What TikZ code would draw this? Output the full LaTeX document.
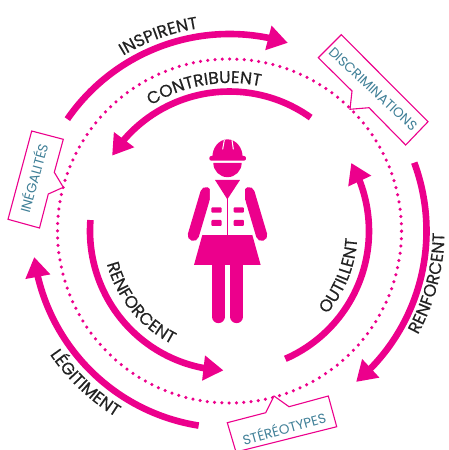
\documentclass[tikz,border=0pt]{standalone}
\usepackage{fontspec}
\setmainfont{Poppins}
\newfontfamily\ringfamily[FakeBold=0.35]{Poppins}
\usetikzlibrary{arrows.meta,bending,decorations.text}
\definecolor{ringpink}{HTML}{EC008C}
\definecolor{calloutteal}{HTML}{3F7F97}
\definecolor{labelink}{HTML}{222222}
\newcommand{\ringfont}{\ringfamily\fontsize{17}{17}\selectfont\color{labelink}}
\tikzset{
  ringarrow/.style={draw=ringpink,line width=6.6pt,-{Triangle[length=20pt,width=24pt,flex]}},
  ringdots/.style={draw=ringpink,line width=3.5pt,line cap=round,dash pattern=on 0pt off 7.3pt},
  ringtext/.style={decorate,decoration={text along path,text align=center,text={|\ringfont|#1}}},
  calloutbox/.style={draw=ringpink,fill=white,line width=1.1pt,miter limit=10},
  callouttext/.style={text=calloutteal,inner sep=0pt,font=\fontsize{13.5}{13.5}\selectfont},
  figpart/.style={fill=ringpink,draw=none},
  vestpart/.style={fill=white,draw=none}
}
\begin{document}
\begin{tikzpicture}[x=1pt,y=1pt]
  \useasboundingbox (0,-450) rectangle (448,0);
  \clip (0,-450) rectangle (448,0);
  \coordinate (c) at (229.5,-231);
  % dotted ring
  \draw [ringdots] (c) circle (172);
  % outer arrows
  \draw [ringarrow] (c) ++(145.4:197) arc (145.4:72.8:197);
  \draw [ringarrow] (c) ++(20.3:197) arc (20.3:-50:197);
  \draw [ringarrow] (c) ++(261:197) arc (261:187.6:197);
  % inner arrows
  \draw [ringarrow] (c) ++(54.4:139.5) arc (54.4:147.3:139.5);
  \draw [ringarrow] (c) ++(175.5:139.5) arc (175.5:267.5:139.5);
  \draw [ringarrow] (c) ++(-66.4:139.5) arc (-66.4:29.2:139.5);
  % labels on the arrows
  \path [ringtext=INSPIRENT] (c) ++(150:205) arc (150:70:205);
  \path [ringtext=CONTRIBUENT] (c) ++(150:148) arc (150:50:148);
  \path [ringtext=RENFORCENT] (c) ++(170:127) arc (170:268:127);
  \path [ringtext=LÉGITIMENT] (c) ++(190:218) arc (190:263:218);
  \path [ringtext=OUTILLENT] (c) ++(-70:128) arc (-70:26:128);
  \path [ringtext=RENFORCENT] (c) ++(-50:215) arc (-50:20.6:215);
  % callouts
  \draw [calloutbox] (31.7,-131) -- (63.3,-139.3) -- (54.3,-172.3) -- (63.3,-187.3)
    -- (48.3,-194) -- (39.5,-228) -- (8,-219.3) -- cycle;
  \node [callouttext,rotate=74.5] (inegalites) at (33,-178) {INÉGALITÉS};
  \draw [calloutbox] (341.3,-34.7) -- (428,-121.7) -- (405.7,-145) -- (369,-107.7)
    -- (350,-109.3) -- (352,-91) -- (318.3,-57.7) -- cycle;
  \node [callouttext,rotate=-43] (discriminations) at (373,-89) {DISCRIMINATIONS};
  \draw [calloutbox] (227.3,-422.7) -- (265.7,-412.7) -- (274,-396) -- (289,-406.7)
    -- (328.3,-396) -- (336.7,-426.7) -- (236,-452) -- cycle;
  \node [callouttext,rotate=15.5] (stereotypes) at (284,-428) {STÉRÉOTYPES};
  % worker
  \begin{scope}[shift={(170,-130)},x=0.3333pt,y=0.3333pt]
    \draw [ringpink,line width=11.3pt,line cap=round] (108,-188) -- (70,-316);
    \draw [ringpink,line width=11.3pt,line cap=round] (237,-188) -- (275,-316);
    \draw [ringpink,line width=13pt,line cap=round] (145,-400) -- (145,-560);
    \draw [ringpink,line width=13pt,line cap=round] (200,-400) -- (200,-560);
    \fill [figpart] (97,-315) -- (247,-315) -- (272,-405) -- (72,-405) -- cycle;
    \fill [vestpart] (120,-152) -- (225,-152) -- (225,-210) -- (247,-315)
      -- (97,-315) -- (120,-210) -- cycle;
    \fill [figpart] (135,-150) -- (210,-150) -- (172,-208) -- cycle;
    \fill [figpart] (170.5,-205) rectangle (174.5,-315);
    \fill [figpart,rounded corners=1pt] (124,-232) rectangle (155,-248);
    \fill [figpart,rounded corners=1pt] (124,-270) rectangle (155,-288);
    \fill [figpart,rounded corners=1pt] (191,-232) rectangle (222,-248);
    \fill [figpart,rounded corners=1pt] (191,-270) rectangle (222,-288);
    % head and helmet
    \fill [figpart] (130,-99) -- (215,-99) arc (0:-180:42.5) -- cycle;
    \fill [figpart] (127,-82) arc (180:0:45.5 and 54) -- cycle;
    \fill [figpart,rounded corners=2pt] (118,-78) rectangle (228,-92);
    \draw [white,line width=1pt] (158,-58) -- (163,-30);
    \draw [white,line width=1pt] (186,-30) -- (190,-58);
  \end{scope}
\end{tikzpicture}
\end{document}
